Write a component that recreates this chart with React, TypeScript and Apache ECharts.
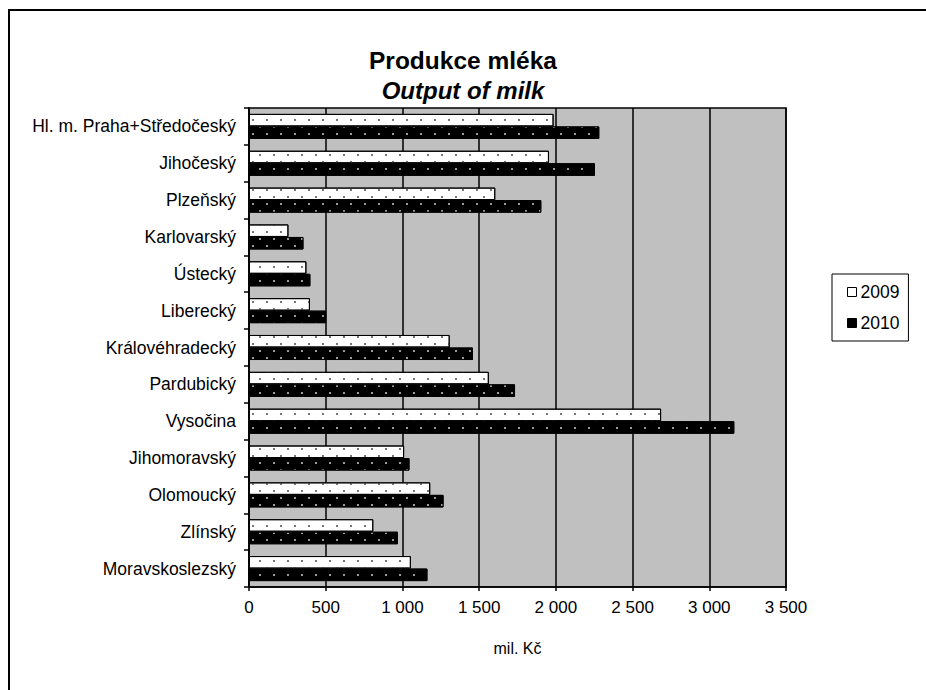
import React, { useEffect, useRef } from "react";
import * as echarts from "echarts";

const categories = [
  "Hl. m. Praha+Středočeský",
  "Jihočeský",
  "Plzeňský",
  "Karlovarský",
  "Ústecký",
  "Liberecký",
  "Královéhradecký",
  "Pardubický",
  "Vysočina",
  "Jihomoravský",
  "Olomoucký",
  "Zlínský",
  "Moravskoslezský",
];
const values2009 = [1985, 1955, 1605, 257, 374, 397, 1308, 1563, 2686, 1011, 1181, 810, 1055];
const values2010 = [2283, 2255, 1905, 355, 400, 503, 1460, 1734, 3163, 1046, 1268, 971, 1163];
const seriesNames = ["2009", "2010"];
const titleMain = "Produkce mléka";
const titleSub = "Output of milk";
const axisName = "mil. Kč";

const FONT = "'Liberation Sans', Arial, sans-serif";

function fmt(v: number) {
  return String(v).replace(/\B(?=(\d{3})+(?!\d))/g, " ");
}

export default function App() {
  const ref = useRef<HTMLDivElement>(null);
  useEffect(() => {
    if (!ref.current) return;
    const chart = echarts.init(ref.current, undefined, { renderer: "svg" });
    chart.setOption({
      animation: false,
      backgroundColor: "#ffffff",
      textStyle: { fontFamily: FONT, color: "#000" },
      title: {
        text: titleMain,
        subtext: titleSub,
        left: "center",
        top: 43,
        itemGap: 5,
        textStyle: { fontFamily: FONT, fontSize: 24.5, fontWeight: "bold", color: "#000" },
        subtextStyle: { fontFamily: FONT, fontSize: 24, fontWeight: "bold", fontStyle: "italic", color: "#000" },
      },
      graphic: [
        {
          type: "polyline",
          shape: { points: [[9, 1200], [9, 10], [1200, 10]] },
          style: { fill: "none", stroke: "#000", lineWidth: 2 },
          silent: true,
        },
      ],
      legend: {
        orient: "vertical",
        left: 832,
        top: 274,
        padding: [9, 9, 9, 15],
        itemGap: 13,
        borderColor: "#000",
        borderWidth: 1,
        icon: "rect",
        itemWidth: 9,
        itemHeight: 9,
        textStyle: { fontFamily: FONT, fontSize: 17.5, color: "#000", padding: [0, 0, 0, -1] },
        data: [
          { name: seriesNames[0], itemStyle: { color: "#fff", borderColor: "#000", borderWidth: 1, decal: "none" } },
          { name: seriesNames[1], itemStyle: { color: "#000", borderColor: "#000", borderWidth: 1, decal: "none" } },
        ],
      },
      grid: {
        left: 249,
        right: 140,
        top: 108,
        bottom: 103,
        show: true,
        backgroundColor: "#c0c0c0",
        borderColor: "#000",
        borderWidth: 1.5,
      },
      xAxis: {
        type: "value",
        min: 0,
        max: 3500,
        interval: 500,
        name: axisName,
        nameLocation: "middle",
        nameGap: 53,
        nameTextStyle: { fontFamily: FONT, fontSize: 16, color: "#000" },
        axisLine: { show: true, lineStyle: { color: "#000", width: 1.5 } },
        axisTick: { show: true, length: 4, lineStyle: { color: "#000", width: 1.5 } },
        axisLabel: { fontFamily: FONT, fontSize: 17, color: "#000", margin: 12, formatter: (v: number) => fmt(v) },
        splitLine: { show: true, lineStyle: { color: "#000", width: 1.5 } },
      },
      yAxis: {
        type: "category",
        inverse: true,
        data: categories,
        axisLine: { show: true, lineStyle: { color: "#000", width: 1.5 } },
        axisTick: { show: true, length: 5, lineStyle: { color: "#000", width: 1.5 } },
        axisLabel: { fontFamily: FONT, fontSize: 17.5, color: "#000", margin: 13 },
        splitLine: { show: false },
      },
      series: [
        {
          name: seriesNames[0],
          type: "bar",
          data: values2009,
          barGap: "0%",
          barCategoryGap: "32%",
          itemStyle: {
            color: "#fff",
            borderColor: "#000",
            borderWidth: 1,
            decal: {
              symbol: "rect",
              symbolSize: 1,
              color: "#777",
              dashArrayX: [[1.5, 11.5], [0, 6.5, 1.5, 5]],
              dashArrayY: [1.5, 4.5],
            },
          },
        },
        {
          name: seriesNames[1],
          type: "bar",
          data: values2010,
          barGap: "0%",
          barCategoryGap: "32%",
          itemStyle: {
            color: "#000",
            borderColor: "#000",
            borderWidth: 1,
            decal: {
              symbol: "rect",
              symbolSize: 1,
              color: "#999",
              dashArrayX: [[1.5, 11.5], [0, 6.5, 1.5, 5]],
              dashArrayY: [1.5, 4.5],
            },
          },
        },
      ],
    });
    return () => chart.dispose();
  }, []);
  return (
    <div
      ref={ref}
      style={{ position: "fixed", left: 0, top: 0, width: 926, height: 690, background: "#fff" }}
    />
  );
}
